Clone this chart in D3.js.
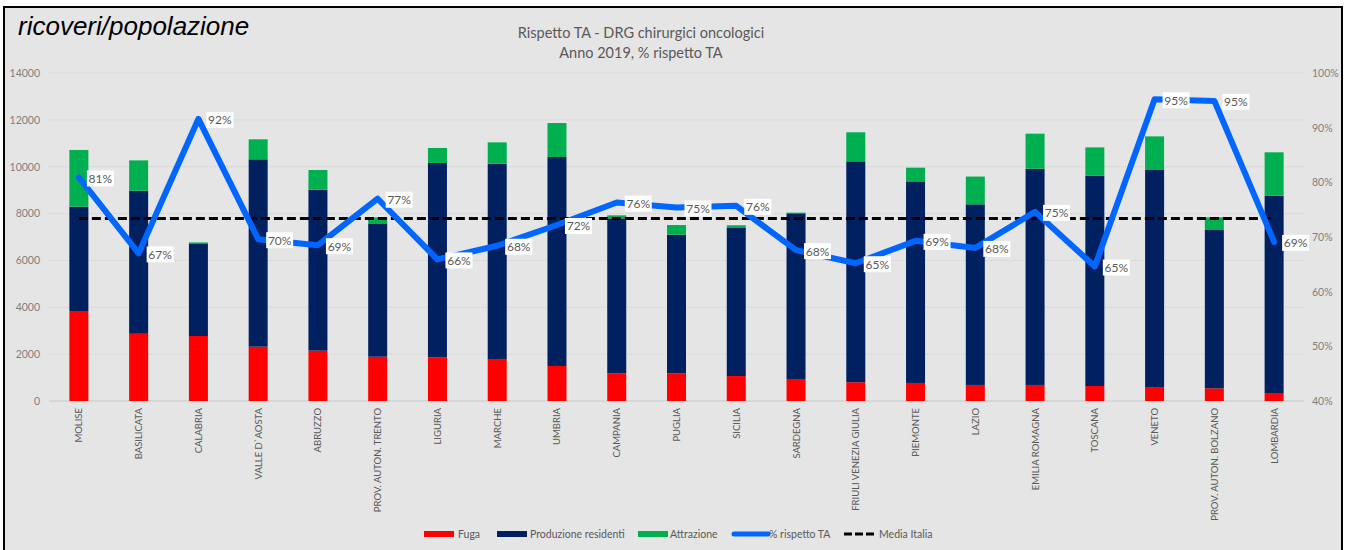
<!DOCTYPE html>
<html>
<head>
<meta charset="utf-8">
<script src="https://cdn.jsdelivr.net/npm/d3@7"></script>
<style>
  html, body { margin: 0; padding: 0; background: #ffffff; }
  svg { display: block; }
</style>
</head>
<body>
<svg id="chart" width="1345" height="550"></svg>
<script>
const categories = ["MOLISE","BASILICATA","CALABRIA","VALLE D`AOSTA","ABRUZZO","PROV. AUTON. TRENTO","LIGURIA","MARCHE","UMBRIA","CAMPANIA","PUGLIA","SICILIA","SARDEGNA","FRIULI VENEZIA GIULIA","PIEMONTE","LAZIO","EMILIA ROMAGNA","TOSCANA","VENETO","PROV. AUTON. BOLZANO","LOMBARDIA"];
const fuga = [3840,2870,2775,2320,2150,1890,1865,1765,1495,1180,1180,1065,940,800,770,685,685,640,570,540,340];
const produzioneResidenti = [4455,6105,3925,7995,6870,5665,8295,8365,8920,6615,5920,6320,7070,9430,8605,7710,9230,8975,9290,6760,8425];
const attrazione = [2420,1295,70,855,840,285,640,910,1450,130,410,115,30,1240,585,1185,1495,1210,1435,540,1850];
const rispettoTA = [80.9,67.0,91.6,69.6,68.5,77.0,65.9,68.4,72.2,76.3,75.4,75.7,67.6,65.2,69.3,68.0,74.6,64.6,95.2,94.9,69.1];
const mediaItalia = categories.map(() => 73.4);
const leftTicks = [0,2000,4000,6000,8000,10000,12000,14000];
const rightTicks = [40,50,60,70,80,90,100];
const seriesNames = ["Fuga","Produzione residenti","Attrazione","% rispetto TA","Media Italia"];

const colors = { fuga: "#ff0000", prod: "#002060", attr: "#00b050", line: "#0066ff", media: "#000000" };
const svg = d3.select("#chart");
const FONT = "Lato, 'Open Sans', sans-serif";

// background + frame
svg.append("rect").attr("x", 4).attr("y", 7).attr("width", 1338).attr("height", 545)
  .attr("fill", "#e5e5e5").attr("stroke", "#000").attr("stroke-width", 2);

const plotLeft = 49, plotRight = 1304, plotTop = 73, plotBottom = 401;
const x = d3.scalePoint().domain(categories).range([plotLeft, plotRight]).padding(0.5);
const yL = d3.scaleLinear().domain([0, 14000]).range([plotBottom, plotTop]);
const yR = d3.scaleLinear().domain([40, 100]).range([plotBottom, plotTop]);
const barW = 19;

// gridlines
svg.append("g").selectAll("line").data(leftTicks.slice(1)).join("line")
  .attr("x1", plotLeft).attr("x2", plotRight)
  .attr("y1", d => yL(d)).attr("y2", d => yL(d))
  .attr("stroke", "#cfcfcf").attr("stroke-width", 1).attr("stroke-dasharray", "1,1");
svg.append("line").attr("x1", plotLeft).attr("x2", plotRight)
  .attr("y1", yL(0)).attr("y2", yL(0)).attr("stroke", "#c8c8c8").attr("stroke-width", 1);

// left axis
const leftAxis = d3.axisLeft(yL).tickValues(leftTicks).tickSize(0).tickPadding(0).tickFormat(d3.format("d"));
const gl = svg.append("g").attr("transform", "translate(40,0)").call(leftAxis);
gl.select(".domain").remove();
gl.selectAll("text").attr("font-family", FONT).attr("font-size", 10.5).attr("fill", "#7f7f7f");

// right axis
const rightAxis = d3.axisRight(yR).tickValues(rightTicks).tickSize(0).tickPadding(0).tickFormat(d => d + "%");
const gr = svg.append("g").attr("transform", "translate(1312,0)").call(rightAxis);
gr.select(".domain").remove();
gr.selectAll("text").attr("font-family", FONT).attr("font-size", 10.5).attr("fill", "#7f7f7f");

// stacked bars
const rows = categories.map((c, i) => ({ cat: c, fuga: fuga[i], prod: produzioneResidenti[i], attr: attrazione[i] }));
const stack = d3.stack().keys(["fuga", "prod", "attr"])(rows);
svg.append("g").selectAll("g").data(stack).join("g")
  .attr("fill", d => colors[d.key])
  .selectAll("rect").data(d => d).join("rect")
  .attr("x", d => x(d.data.cat) - barW / 2)
  .attr("width", barW)
  .attr("y", d => yL(d[1]))
  .attr("height", d => yL(d[0]) - yL(d[1]));

// category labels
svg.append("g").selectAll("text").data(categories).join("text")
  .attr("transform", d => `translate(${x(d) + 3.5},408) rotate(-90)`)
  .attr("text-anchor", "end")
  .attr("font-family", FONT).attr("font-size", 9.5).attr("fill", "#595959")
  .text(d => d);

// media italia dashed line
const mediaLine = d3.line().x((d, i) => x(categories[i])).y(d => yR(d));
svg.append("path").datum(mediaItalia).attr("d", mediaLine)
  .attr("fill", "none").attr("stroke", colors.media).attr("stroke-width", 3)
  .attr("stroke-dasharray", "9,4");

// % rispetto line
const line = d3.line().x((d, i) => x(categories[i])).y(d => yR(d));
svg.append("path").datum(rispettoTA).attr("d", line)
  .attr("fill", "none").attr("stroke", colors.line).attr("stroke-width", 6)
  .attr("stroke-linejoin", "round").attr("stroke-linecap", "round");

// data labels
const lbl = svg.append("g").selectAll("g").data(rispettoTA).join("g")
  .attr("transform", (d, i) => `translate(${x(categories[i]) + 8},${yR(d) + 1})`);
lbl.append("rect").attr("x", 0).attr("y", -8).attr("width", 27).attr("height", 16).attr("fill", "#ffffff");
lbl.append("text").attr("x", 13.5).attr("y", 4.5).attr("text-anchor", "middle")
  .attr("font-family", FONT).attr("font-size", 12).attr("fill", "#595959")
  .text(d => Math.round(d) + "%");

// titles
svg.append("text").attr("x", 18).attr("y", 35)
  .attr("font-family", "'Liberation Sans', Arial, sans-serif").attr("font-style", "italic")
  .attr("font-size", 26).attr("fill", "#000").text("ricoveri/popolazione");
svg.append("text").attr("x", 641).attr("y", 38).attr("text-anchor", "middle")
  .attr("font-family", FONT).attr("font-size", 14.5).attr("fill", "#595959")
  .text("Rispetto TA - DRG chirurgici oncologici");
svg.append("text").attr("x", 641).attr("y", 58).attr("text-anchor", "middle")
  .attr("font-family", FONT).attr("font-size", 14.5).attr("fill", "#595959")
  .text("Anno 2019, % rispetto TA");

// legend
const legendItems = [
  { name: seriesNames[0], sx: 424, tx: 458, type: "bar", color: colors.fuga },
  { name: seriesNames[1], sx: 497, tx: 530, type: "bar", color: colors.prod },
  { name: seriesNames[2], sx: 638, tx: 670, type: "bar", color: colors.attr },
  { name: seriesNames[3], sx: 734, tx: 769, type: "line", color: colors.line },
  { name: seriesNames[4], sx: 844, tx: 879, type: "dash", color: colors.media }
];
const ly = 534;
const lg = svg.append("g").selectAll("g").data(legendItems).join("g");
lg.filter(d => d.type === "bar").append("rect")
  .attr("x", d => d.sx).attr("y", ly - 3).attr("width", 30).attr("height", 6).attr("fill", d => d.color);
lg.filter(d => d.type === "line").append("line")
  .attr("x1", d => d.sx).attr("x2", d => d.sx + 34).attr("y1", ly).attr("y2", ly)
  .attr("stroke", d => d.color).attr("stroke-width", 5).attr("stroke-linecap", "round");
lg.filter(d => d.type === "dash").append("line")
  .attr("x1", d => d.sx).attr("x2", d => d.sx + 31).attr("y1", ly).attr("y2", ly)
  .attr("stroke", d => d.color).attr("stroke-width", 3).attr("stroke-dasharray", "8,3");
lg.append("text").attr("x", d => d.tx).attr("y", ly + 4)
  .attr("font-family", FONT).attr("font-size", 10.5).attr("fill", "#595959")
  .text(d => d.name);
</script>
</body>
</html>
